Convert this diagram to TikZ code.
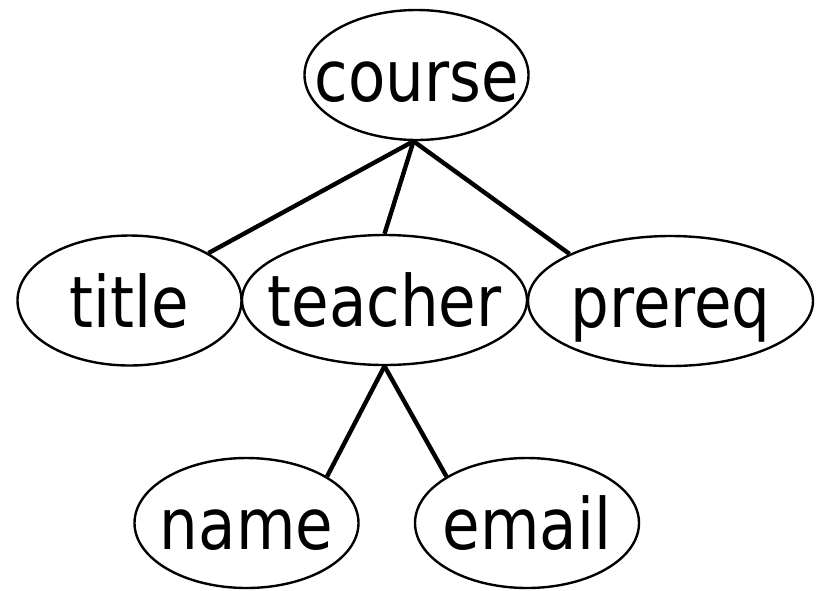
\documentclass[tikz,border=0pt]{standalone}
\usepackage{fontspec}
\setmainfont{DejaVu Sans}[FakeStretch=0.86]
\usetikzlibrary{shapes.geometric}
\tikzset{
  field/.style={ellipse, draw, line width=2.4pt, inner sep=0pt,
    minimum height=130pt, text height=53pt, text depth=0pt,
    font=\fontsize{71}{85}\selectfont},
  narrow/.style={field, minimum width=224pt},
  wide/.style={field, minimum width=285pt},
  link/.style={line width=4.4pt}
}
\newcommand{\lbl}[1]{\makebox[0pt]{#1}}
\begin{document}
\begin{tikzpicture}[x=1pt, y=-1pt]
  \useasboundingbox (0,0) rectangle (821,590);
  \node[narrow] (course)  at (416.5,75)  {\lbl{course}};
  \node[narrow] (title)   at (129.5,300.5) {\lbl{title}};
  \node[wide]   (teacher) at (384.5,300) {\lbl{teacher}};
  \node[wide]   (prereq)  at (670.5,301) {\lbl{prereq}};
  \node[narrow] (name)    at (246.5,523) {\lbl{name}};
  \node[narrow] (email)   at (527,523)   {\lbl{email}};
  \draw[link] ([xshift=-3pt]course.south) -- (title.31);
  \draw[link] ([xshift=-3pt]course.south) -- (teacher.north);
  \draw[link] ([xshift=-3pt]course.south) -- (prereq.155);
  \draw[link] (teacher.south) -- (name.30);
  \draw[link] (teacher.south) -- (email.150);
\end{tikzpicture}
\end{document}
